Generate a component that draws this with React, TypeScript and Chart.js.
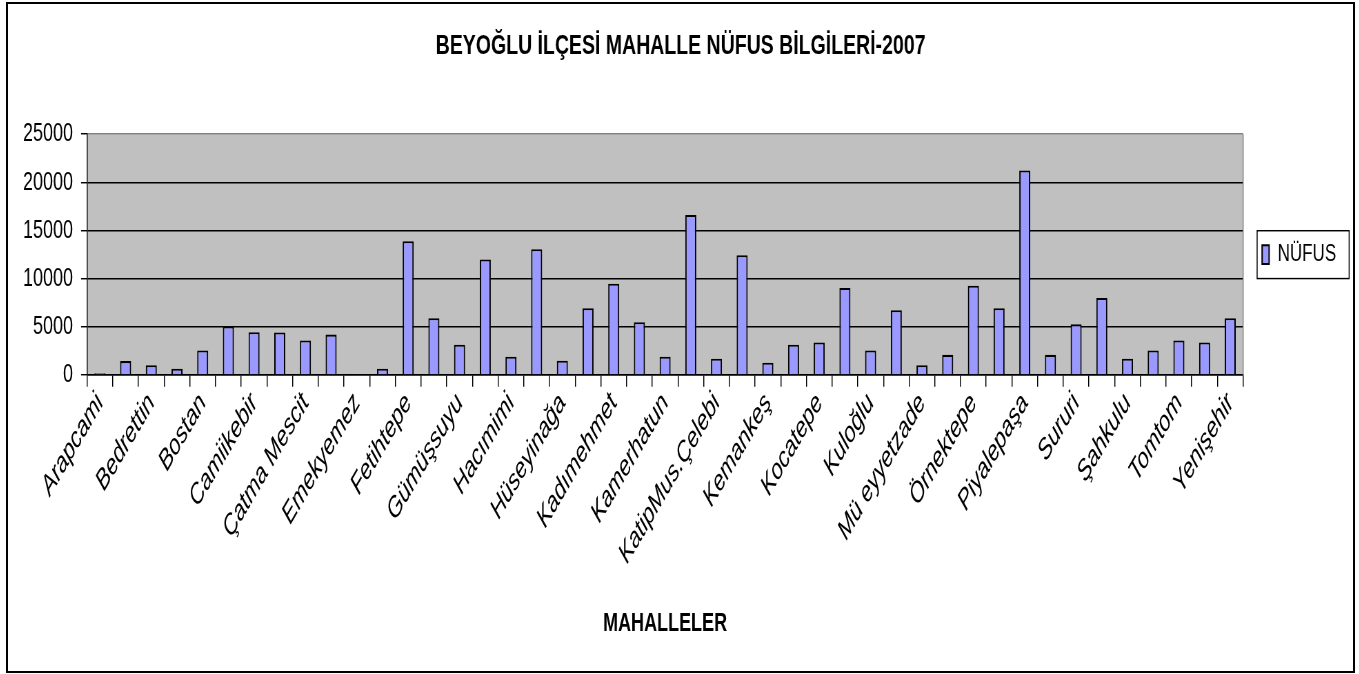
import React, { useEffect, useRef } from 'react';
import { Chart, registerables } from 'chart.js';

Chart.register(...registerables);

const TITLE = 'BEYOĞLU İLÇESİ MAHALLE NÜFUS BİLGİLERİ-2007';
const X_TITLE = 'MAHALLELER';
const SERIES_NAME = 'NÜFUS';

const categories = [
  'Arapcami', 'Asmalımescit', 'Bedrettin', 'Bereketzade', 'Bostan', 'Bülbül', 'Camiikebir', 'Cihangir',
  'Çatma Mescit', 'Çukur', 'Emekyemez', 'Evliya Çelebi', 'Fetihtepe', 'Firuzağa', 'Gümüşsuyu', 'Hacıahmet',
  'Hacımimi', 'Halıcıoğlu', 'Hüseyinağa', 'İstiklal', 'Kadımehmet', 'Kalyoncukulluğu', 'Kamerhatun', 'Kaptanpaşa',
  'KatipMus.Çelebi', 'Keçecipiri', 'Kemankeş', 'Kılıçalipaşa', 'Kocatepe', 'Kulaksız', 'Kuloğlu', 'Küçükpiyale',
  'Mü eyyetzade', 'Ömeravni', 'Örnektepe', 'Piripaşa', 'Piyalepaşa', 'Pürtelaş', 'Sururi', 'Sütlüce',
  'Şahkulu', 'Şehit Muhtar', 'Tomtom', 'Yahya Kahya', 'Yenişehir',
];

const population = [
  200, 1450, 1030, 650, 2550, 5050, 4450, 4420,
  3590, 4200, 0, 650, 13900, 5900, 3150, 12000,
  1900, 13070, 1480, 6930, 9480, 5480, 1900, 16620,
  1690, 12450, 1280, 3140, 3380, 9030, 2550, 6720,
  1030, 2100, 9270, 6930, 21240, 2100, 5280, 8000,
  1690, 2550, 3590, 3380, 5900,
];

const yTicks = [0, 5000, 10000, 15000, 20000, 25000];

const STRETCH = 1.45;

const plotDecor = {
  id: 'plotDecor',
  beforeDraw(chart: any) {
    const { ctx, chartArea: a } = chart;
    ctx.save();
    ctx.fillStyle = '#C0C0C0';
    ctx.fillRect(a.left, a.top, a.right - a.left, a.bottom - a.top);
    ctx.restore();
  },
  beforeDatasetsDraw(chart: any) {
    const { ctx, chartArea: a } = chart;
    ctx.save();
    ctx.strokeStyle = '#808080';
    ctx.lineWidth = 1;
    ctx.beginPath();
    ctx.moveTo(a.right, a.top);
    ctx.lineTo(a.right, a.bottom);
    ctx.stroke();
    ctx.restore();
  },
  afterDraw(chart: any) {
    const lg = chart.legend;
    if (!lg || !lg.legendHitBoxes || !lg.legendHitBoxes[0]) return;
    const hb = lg.legendHitBoxes[0];
    const { ctx } = chart;
    ctx.save();
    ctx.strokeStyle = '#000';
    ctx.lineWidth = 1;
    const cy = hb.top + hb.height / 2;
    ctx.strokeRect(hb.left - 5, cy - 16.5, 92, 33);
    ctx.restore();
  },
};

export default function App() {
  const ref = useRef<HTMLCanvasElement | null>(null);

  useEffect(() => {
    if (!ref.current) return;
    Chart.defaults.font.family = '"Liberation Sans", Arial, sans-serif';
    Chart.defaults.color = '#000';
    const chart = new Chart(ref.current, {
      type: 'bar',
      data: {
        labels: categories,
        datasets: [
          {
            label: SERIES_NAME,
            data: population,
            backgroundColor: '#9999FF',
            borderColor: '#000000',
            borderWidth: 1.4,
            barPercentage: 0.43,
            categoryPercentage: 1,
          },
        ],
      },
      options: {
        animation: false,
        responsive: true,
        maintainAspectRatio: false,
        devicePixelRatio: STRETCH,
        layout: { padding: { left: 7, right: 7, top: 0, bottom: 0 } },
        plugins: {
          title: {
            display: true,
            text: TITLE,
            color: '#000',
            font: { size: 19.5, weight: 'bold' },
            padding: { top: 17.7, bottom: 48.7 },
          },
          legend: {
            position: 'right',
            fullSize: false,
            labels: {
              color: '#000',
              font: { size: 17 },
              boxWidth: 7,
              boxHeight: 13,
              padding: 19,
            },
          },
          tooltip: { enabled: false },
        },
        scales: {
          x: {
            grid: {
              display: true,
              drawOnChartArea: false,
              drawTicks: true,
              tickLength: 8,
              color: '#000',
              offset: true,
            },
            border: { display: true, color: '#000', width: 1 },
            ticks: {
              autoSkip: false,
              maxRotation: 50,
              minRotation: 50,
              padding: 0,
              color: '#000',
              font: { size: 20, style: 'italic' },
              callback: (_v: any, i: number) => (i % 2 === 0 ? categories[i] : ''),
            },
            title: {
              display: true,
              text: X_TITLE,
              color: '#000',
              font: { size: 18, weight: 'bold' },
              padding: { top: 25.5, bottom: 22 },
            },
          },
          y: {
            min: yTicks[0],
            max: yTicks[yTicks.length - 1],
            ticks: {
              stepSize: yTicks[1] - yTicks[0],
              padding: 8,
              color: '#000',
              font: { size: 18 },
              callback: (v: any) => String(v),
            },
            grid: {
              color: (c: any) => (c.tick && c.tick.value === yTicks[yTicks.length - 1] ? '#808080' : '#000'),
              tickColor: '#000',
              tickLength: 6,
              drawTicks: true,
              lineWidth: 1,
            },
            border: { display: true, color: '#000', width: 1 },
          },
        },
      },
      plugins: [plotDecor],
    } as any);
    return () => chart.destroy();
  }, []);

  return (
    <div
      style={{
        position: 'absolute',
        left: 6,
        top: 2,
        width: 1349,
        height: 671,
        border: '2px solid #000',
        boxSizing: 'border-box',
        background: '#fff',
        overflow: 'hidden',
      }}
    >
      <div style={{ width: 1345, height: 460, transform: `scaleY(${STRETCH})`, transformOrigin: '0 0' }}>
        <canvas ref={ref} />
      </div>
    </div>
  );
}
